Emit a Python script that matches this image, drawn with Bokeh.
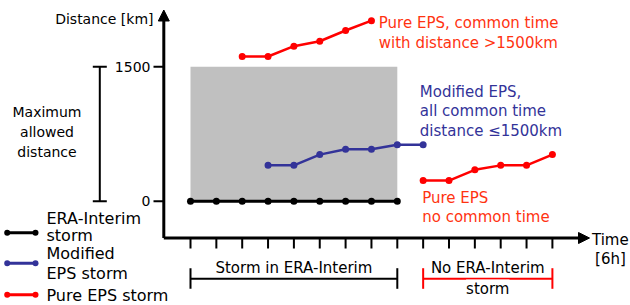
from bokeh.plotting import figure
from bokeh.models import Range1d, Arrow, NormalHead
from bokeh.core.properties import value
from bokeh.embed import file_html
from bokeh.resources import INLINE

# ---------------- data ----------------
time_era = [0, 1, 2, 3, 4, 5, 6, 7, 8]
dist_era = [0, 0, 0, 0, 0, 0, 0, 0, 0]

time_mod = [3, 4, 5, 6, 7, 8, 9]
dist_mod = [400, 400, 520, 580, 580, 630, 630]

time_pure_common = [2, 3, 4, 5, 6, 7]
dist_pure_common = [1615, 1615, 1730, 1785, 1905, 2015]

time_pure_nocommon = [9, 10, 11, 12, 13, 14]
dist_pure_nocommon = [230, 230, 350, 400, 400, 520]

max_allowed = 1500
y_ticks = [0, 1500]
y_tick_labels = ["0", "1500"]
x_ticks = list(range(15))

# ---------------- layout helpers (picture pixels -> data units) ----------------
W, H = 630, 305
OFF = 0                         # figure's top-left in the picture
X0PX, DXPX = 190.0, 25.85       # picture px of t=0, px per time step
Y0PX, KY = 200.7, 134.4 / 1500  # picture px of 0 km, px per km


def tx(px):
    return (px - X0PX) / DXPX


def ky(py):
    return (Y0PX - py) / KY


FONT = value("DejaVu Sans")
BLACK = "#000000"
BLUE = "#333399"
RED = "#ff0000"
REDTXT = "#ff3311"

p = figure(width=W, height=H, output_backend="svg", toolbar_location=None,
           x_range=Range1d(tx(OFF), tx(OFF + W)), y_range=Range1d(ky(OFF + H), ky(OFF)),
           x_axis_location=None, y_axis_location=None, min_border=0,
           outline_line_color=None)
p.grid.visible = False
p.background_fill_color = "white"

# grey box (allowed region)
p.quad(left=time_era[0], right=time_era[-1], bottom=0, top=max_allowed,
       fill_color="#c0c0c0", line_color=None)

# axes with arrows
ax_t = tx(163.3)
ax_y = ky(237.5)
p.add_layout(Arrow(end=NormalHead(size=11, fill_color=BLACK, line_color=BLACK, line_width=1),
                   x_start=ax_t, y_start=ax_y, x_end=ax_t, y_end=ky(9.5),
                   line_width=3, line_color=BLACK))
p.add_layout(Arrow(end=NormalHead(size=11, fill_color=BLACK, line_color=BLACK, line_width=1),
                   x_start=ax_t, y_start=ax_y, x_end=tx(589), y_end=ax_y,
                   line_width=3, line_color=BLACK))

# x ticks
p.segment(x0=x_ticks, y0=[ax_y] * len(x_ticks), x1=x_ticks,
          y1=[ky(248)] * len(x_ticks), line_color=BLACK, line_width=2)

# y ticks
p.segment(x0=[tx(153)] * 2, y0=y_ticks, x1=[ax_t] * 2, y1=y_ticks,
          line_color=BLACK, line_width=2)
p.text(x=[tx(150)] * 2, y=y_ticks, text=y_tick_labels, text_font=FONT,
       text_font_size="14px", text_align="right", text_baseline="middle",
       text_color=BLACK)

p.text(x=[tx(153)], y=[ky(18.5)], text=["Distance [km]"], text_font=FONT,
       text_font_size="14px", text_align="right", text_baseline="middle",
       text_color=BLACK)

# maximum allowed distance bar
bx = tx(99.3)
p.segment(x0=[bx], y0=[0], x1=[bx], y1=[max_allowed], line_color=BLACK, line_width=2)
p.segment(x0=[tx(92.3)] * 2, y0=[0, max_allowed], x1=[tx(106.3)] * 2,
          y1=[0, max_allowed], line_color=BLACK, line_width=2)
p.text(x=[tx(46.5)] * 3, y=[ky(111.7), ky(131.7), ky(151.5)],
       text=["Maximum", "allowed", "distance"], text_font=FONT,
       text_font_size="14px", text_align="center", text_baseline="middle",
       text_color=BLACK)

# data series
p.line(time_era, dist_era, line_color=BLACK, line_width=3)
p.scatter(time_era, dist_era, size=7, fill_color=BLACK, line_color=None)
p.line(time_mod, dist_mod, line_color=BLUE, line_width=2.5)
p.scatter(time_mod, dist_mod, size=7, fill_color=BLUE, line_color=None)
p.line(time_pure_common, dist_pure_common, line_color=RED, line_width=2.5)
p.scatter(time_pure_common, dist_pure_common, size=7, fill_color=RED, line_color=None)
p.line(time_pure_nocommon, dist_pure_nocommon, line_color=RED, line_width=2.5)
p.scatter(time_pure_nocommon, dist_pure_nocommon, size=7, fill_color=RED, line_color=None)

# annotations
p.text(x=[tx(378.3)] * 2, y=[ky(22.7), ky(42.7)],
       text=["Pure EPS,  common time", "with distance >1500km"],
       text_font=FONT, text_font_size="15px", text_align="left",
       text_baseline="middle", text_color=REDTXT)
p.text(x=[tx(419.3)] * 3, y=[ky(91.3), ky(110.5), ky(130)],
       text=["Modified EPS,", "all common time", "distance ≤1500km"],
       text_font=FONT, text_font_size="15px", text_align="left",
       text_baseline="middle", text_color=BLUE)
p.text(x=[tx(421.7)] * 2, y=[ky(197.3), ky(216.3)],
       text=["Pure EPS", "no common time"],
       text_font=FONT, text_font_size="15px", text_align="left",
       text_baseline="middle", text_color=REDTXT)

# time label
p.text(x=[tx(591.5)], y=[ky(239)], text=["Time"], text_font=FONT,
       text_font_size="15px", text_align="left", text_baseline="middle",
       text_color=BLACK)
p.text(x=[tx(610)], y=[ky(258.5)], text=["[6h]"], text_font=FONT,
       text_font_size="15px", text_align="center", text_baseline="middle",
       text_color=BLACK)

# brackets
by = ky(278.3)
byt, byb = ky(267.7), ky(288.3)
for (a, b, col) in [(time_era[0], time_era[-1], BLACK),
                    (time_pure_nocommon[0], time_pure_nocommon[-1], RED)]:
    p.segment(x0=[a], y0=[by], x1=[b], y1=[by], line_color=col, line_width=2)
    p.segment(x0=[a, b], y0=[byt, byt], x1=[a, b], y1=[byb, byb],
              line_color=col, line_width=2)
p.text(x=[(time_era[0] + time_era[-1]) / 2], y=[ky(267.5)],
       text=["Storm in ERA-Interim"], text_font=FONT, text_font_size="15px",
       text_align="center", text_baseline="middle", text_color=BLACK,
       background_fill_color="white")
p.text(x=[(time_pure_nocommon[0] + time_pure_nocommon[-1]) / 2] * 2,
       y=[ky(267.5), ky(288)], text=["No ERA-Interim", "storm"], text_font=FONT,
       text_font_size="15px", text_align="center", text_baseline="middle",
       text_color=BLACK, background_fill_color="white")

# legend (hand drawn)
lg_x = [tx(6.7), tx(35)]
for (py, col) in [(232.3, BLACK), (262.7, BLUE), (294.3, RED)]:
    p.line(lg_x, [ky(py)] * 2, line_color=col, line_width=3)
    p.scatter(lg_x, [ky(py)] * 2, size=6, fill_color=col, line_color=None)
p.text(x=[tx(46)] * 5,
       y=[ky(218.3), ky(235), ky(253.3), ky(273), ky(295)],
       text=["ERA-Interim", "storm", "Modified", "EPS storm", "Pure EPS storm"],
       text_font=FONT, text_font_size="16px", text_align="left",
       text_baseline="middle", text_color=BLACK)

open("out.html", "w").write(file_html(p, INLINE))
